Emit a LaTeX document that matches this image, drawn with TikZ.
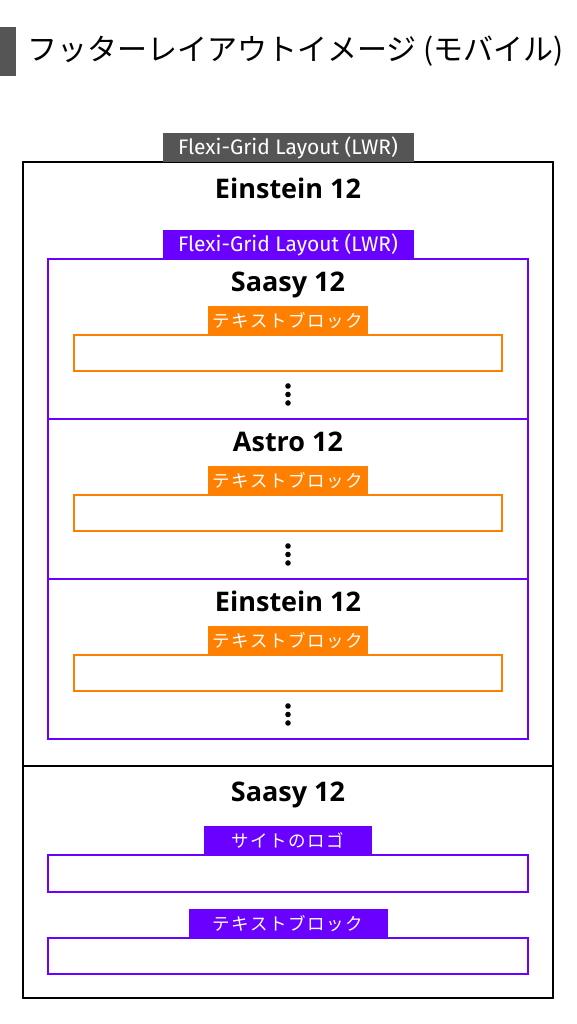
\documentclass[tikz,border=0pt]{standalone}
\usepackage{fontspec}
\setmainfont{Fira Sans}
\newfontfamily\headfont{Open Sans}
\newfontfamily\jpfont{Noto Sans CJK JP}
\newfontfamily\jptagfont[LetterSpace=9]{Noto Sans CJK JP}
\usetikzlibrary{positioning}
\definecolor{gridgray}{HTML}{555555}
\definecolor{lwrpurple}{HTML}{6A00FF}
\definecolor{blockorange}{HTML}{FF7F00}

\begin{document}
\begin{tikzpicture}[
    x=1pt, y=1pt,
    node distance=0pt,
    frame/.style={draw=black, line width=2pt, minimum width=530pt, inner sep=0pt, outer sep=0pt},
    cell/.style={draw=lwrpurple, line width=2pt, minimum width=480pt, minimum height=160pt, inner sep=0pt, outer sep=0pt},
    slot/.style={draw=#1, line width=2pt, minimum width=428pt, minimum height=36pt, inner sep=0pt, outer sep=0pt},
    tag/.style={fill=#1, text=white, minimum height=29pt, inner sep=0pt, outer sep=0pt},
    heading/.style={anchor=base, inner sep=0pt, font=\headfont\bfseries\fontsize{27}{27}\selectfont},
    flexi/.style={minimum width=251pt, font=\fontsize{21}{21}\selectfont},
    jptag/.style={font=\jptagfont\fontsize{17.5}{17.5}\selectfont},
    dot/.style={fill=black}
]
\useasboundingbox (0,0) rectangle (576,1024);
\fill[white] (0,0) rectangle (576,1024);

% Title
\node[fill=gridgray, minimum width=16pt, minimum height=49pt, inner sep=0pt, anchor=north west] (titlebar) at (0,997) {};
\node[anchor=west, inner sep=0pt, font=\jpfont\fontsize{30}{30}\selectfont] (title) at (27,973) {フッターレイアウトイメージ (モバイル)};

% Einstein 12 (outer)
\node[frame, minimum height=604pt] (einframe) at (288,560) {};
\node[frame, minimum height=232pt, below=of einframe] (footframe) {};
\node[tag=gridgray, flexi, above=of einframe] (gridtag) {Flexi-Grid Layout (LWR)};
\node[heading] (eintitle) at ([yshift=-37pt]einframe.north) {Einstein 12};

% Flexi-Grid cells
\node[cell] (saasycell) at (288,685) {};
\node[cell, below=of saasycell] (astrocell) {};
\node[cell, below=of astrocell] (einsteincell) {};
\node[tag=lwrpurple, flexi, above=of saasycell] (lwrtag) {Flexi-Grid Layout (LWR)};

% Saasy 12
\node[heading] (saasytitle) at ([yshift=-33pt]saasycell.north) {Saasy 12};
\node[slot=blockorange] (saasyslot) at ([yshift=-94pt]saasycell.north) {};
\node[tag=blockorange, jptag, minimum width=160pt, above=of saasyslot] (saasytag) {テキストブロック};
\fill[dot] ([yshift=-15pt]saasyslot.south) circle (2.8pt) ([yshift=-23.5pt]saasyslot.south) circle (2.8pt) ([yshift=-32pt]saasyslot.south) circle (2.8pt);

% Astro 12
\node[heading] (astrotitle) at ([yshift=-33pt]astrocell.north) {Astro 12};
\node[slot=blockorange] (astroslot) at ([yshift=-94pt]astrocell.north) {};
\node[tag=blockorange, jptag, minimum width=160pt, above=of astroslot] (astrotag) {テキストブロック};
\fill[dot] ([yshift=-15pt]astroslot.south) circle (2.8pt) ([yshift=-23.5pt]astroslot.south) circle (2.8pt) ([yshift=-32pt]astroslot.south) circle (2.8pt);

% Einstein 12
\node[heading] (einsteintitle) at ([yshift=-33pt]einsteincell.north) {Einstein 12};
\node[slot=blockorange] (einsteinslot) at ([yshift=-94pt]einsteincell.north) {};
\node[tag=blockorange, jptag, minimum width=160pt, above=of einsteinslot] (einsteintag) {テキストブロック};
\fill[dot] ([yshift=-15pt]einsteinslot.south) circle (2.8pt) ([yshift=-23.5pt]einsteinslot.south) circle (2.8pt) ([yshift=-32pt]einsteinslot.south) circle (2.8pt);

% Footer Saasy 12
\node[heading] (foottitle) at ([yshift=-36pt]footframe.north) {Saasy 12};
\node[slot=lwrpurple, minimum width=480pt, minimum height=37pt] (logoslot) at ([yshift=-107.5pt]footframe.north) {};
\node[tag=lwrpurple, jptag, minimum width=168pt, above=of logoslot] (logotag) {サイトのロゴ};
\node[slot=lwrpurple, minimum width=480pt] (textslot) at ([yshift=-190pt]footframe.north) {};
\node[tag=lwrpurple, jptag, minimum width=199pt, above=of textslot] (texttag) {テキストブロック};

\end{tikzpicture}
\end{document}
